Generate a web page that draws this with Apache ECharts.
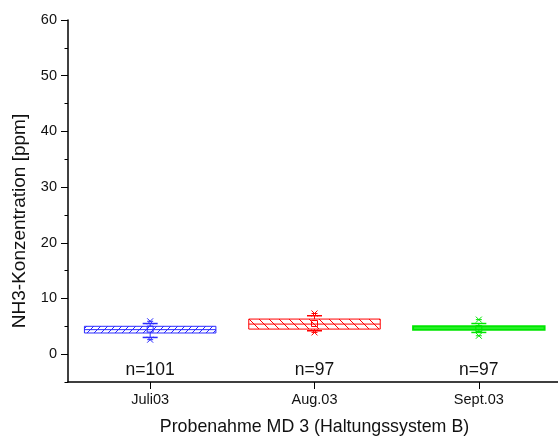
<!DOCTYPE html>
<html>
<head>
<meta charset="utf-8">
<script src="https://cdn.jsdelivr.net/npm/echarts@6/dist/echarts.min.js"></script>
<style>
  html, body { margin: 0; padding: 0; background: #fff; }
  #chart { width: 558px; height: 440px; }
</style>
</head>
<body>
<div id="chart"></div>
<script>
// NH3 sampling, MD 3 – box chart values (ppm)
const categories = ["Juli03", "Aug.03", "Sept.03"];
const q1 = [3.8, 4.5, 4.4];
const median = [4.4, 5.4, 4.7];
const q3 = [5.0, 6.3, 5.0];
const whiskerLow = [3.0, 4.2, 3.9];
const whiskerHigh = [5.5, 6.9, 5.5];
const extremeLow = [2.6, 3.9, 3.3];
const extremeHigh = [5.9, 7.3, 6.2];
const mean = [4.5, 5.5, 4.6];
const sampleSize = [101, 97, 97];
const yTickValues = [0, 10, 20, 30, 40, 50, 60];

const colors = ["#2a2aff", "#ff0000", "#00e600"];

function hatch(color, size, dir) {
  const c = document.createElement("canvas");
  c.width = size;
  c.height = size;
  const ctx = c.getContext("2d");
  ctx.fillStyle = "#fff";
  ctx.fillRect(0, 0, size, size);
  ctx.strokeStyle = color;
  ctx.lineWidth = 1;
  ctx.beginPath();
  if (dir > 0) {
    ctx.moveTo(-1, size + 1);
    ctx.lineTo(size + 1, -1);
  } else {
    ctx.moveTo(-1, -1);
    ctx.lineTo(size + 1, size + 1);
  }
  ctx.stroke();
  return { image: c, repeat: "repeat" };
}

const fills = [hatch(colors[0], 7, 1), hatch(colors[1], 10, -1), "#66ff66"];

const boxData = categories.map((c, i) => [
  i, extremeLow[i], whiskerLow[i], q1[i], median[i], q3[i],
  whiskerHigh[i], extremeHigh[i], mean[i], sampleSize[i]
]);

function cross(x, y, r, color) {
  return {
    type: "group",
    children: [
      { type: "line", shape: { x1: x - r, y1: y - r, x2: x + r, y2: y + r }, style: { stroke: color, lineWidth: 1 } },
      { type: "line", shape: { x1: x - r, y1: y + r, x2: x + r, y2: y - r }, style: { stroke: color, lineWidth: 1 } }
    ]
  };
}

let chart = echarts.init(document.getElementById("chart"));

let option = {
  animation: false,
  grid: {
    left: 68,
    right: -3,
    top: 20,
    bottom: 58,
    containLabel: false,
    outerBoundsMode: "none"
  },
  xAxis: {
    type: "category",
    data: categories,
    boundaryGap: true,
    name: "Probenahme MD 3 (Haltungssystem B)",
    nameLocation: "middle",
    nameGap: 36,
    nameTextStyle: { fontFamily: "Liberation Sans", fontSize: 17.8, color: "#111" },
    axisLine: { show: true, onZero: false, lineStyle: { color: "#000", width: 1.5 } },
    axisTick: { show: true, alignWithLabel: true, interval: 0, length: 7, lineStyle: { color: "#000", width: 1 } },
    axisLabel: { fontFamily: "Liberation Sans", fontSize: 14.5, color: "#111", margin: 10 },
    splitLine: { show: false }
  },
  yAxis: [
    {
      type: "value",
      min: -5,
      max: 60,
      interval: 5,
      axisLine: { show: true, lineStyle: { color: "#000", width: 1.5 } },
      axisTick: { show: true, length: 3.5, lineStyle: { color: "#000" } },
      axisLabel: { show: false },
      splitLine: { show: false }
    },
    {
      type: "value",
      min: -5,
      max: 60,
      position: "left",
      axisLine: { show: false },
      axisTick: { show: true, length: 7, customValues: yTickValues, lineStyle: { color: "#000" } },
      axisLabel: { fontFamily: "Liberation Sans", fontSize: 14.5, color: "#111", margin: 11, customValues: yTickValues },
      splitLine: { show: false }
    }
  ],
  graphic: [
    {
      type: "text",
      x: 20,
      y: 221,
      rotation: Math.PI / 2,
      style: {
        text: "NH3-Konzentration [ppm]",
        font: "19px 'Liberation Sans'",
        fill: "#111",
        align: "center",
        verticalAlign: "middle"
      }
    }
  ],
  series: [
    {
      type: "custom",
      data: boxData,
      encode: { x: 0, y: [1, 2, 3, 4, 5, 6, 7, 8] },
      renderItem: (params, api) => {
        const i = api.value(0);
        const color = colors[i];
        const bw = api.size([1, 0])[0] * 0.8;
        const pt = v => api.coord([i, v]);
        const cx = pt(0)[0];
        const capW = 7.5;
        const yExLo = pt(api.value(1))[1];
        const yWLo = pt(api.value(2))[1];
        const yQ1 = pt(api.value(3))[1];
        const yMed = pt(api.value(4))[1];
        const yQ3 = pt(api.value(5))[1];
        const yWHi = pt(api.value(6))[1];
        const yExHi = pt(api.value(7))[1];
        const yMean = pt(api.value(8))[1];
        const yText = pt(-2.9)[1];
        const line = (x1, y1, x2, y2, w) => ({
          type: "line",
          shape: { x1, y1, x2, y2 },
          style: { stroke: color, lineWidth: w || 1 }
        });
        return {
          type: "group",
          children: [
            {
              type: "rect",
              shape: { x: cx - bw / 2, y: yQ3, width: bw, height: yQ1 - yQ3 },
              style: { fill: fills[i], stroke: color, lineWidth: i === 2 ? 2 : 1 }
            },
            line(cx - bw / 2, yMed, cx + bw / 2, yMed),
            line(cx, yQ3, cx, yWHi),
            line(cx, yQ1, cx, yWLo),
            line(cx - capW, yWHi, cx + capW, yWHi, 1.5),
            line(cx - capW, yWLo, cx + capW, yWLo, 1.5),
            cross(cx, yExHi, 3, color),
            cross(cx, yExLo, 3, color),
            line(cx - 3, yExHi, cx + 3, yExHi),
            line(cx - 3, yExLo, cx + 3, yExLo),
            {
              type: "rect",
              shape: { x: cx - 3, y: yMean - 3, width: 6, height: 6 },
              style: { fill: "none", stroke: color, lineWidth: 1 }
            },
            {
              type: "text",
              x: cx,
              y: yText,
              style: {
                text: "n=" + api.value(9),
                font: "17.5px 'Liberation Sans'",
                fill: "#111",
                align: "center",
                verticalAlign: "middle"
              }
            }
          ]
        };
      }
    }
  ]
};

chart.setOption(option);

window.addEventListener("resize", () => {
  chart.resize();
});
</script>
</body>
</html>
